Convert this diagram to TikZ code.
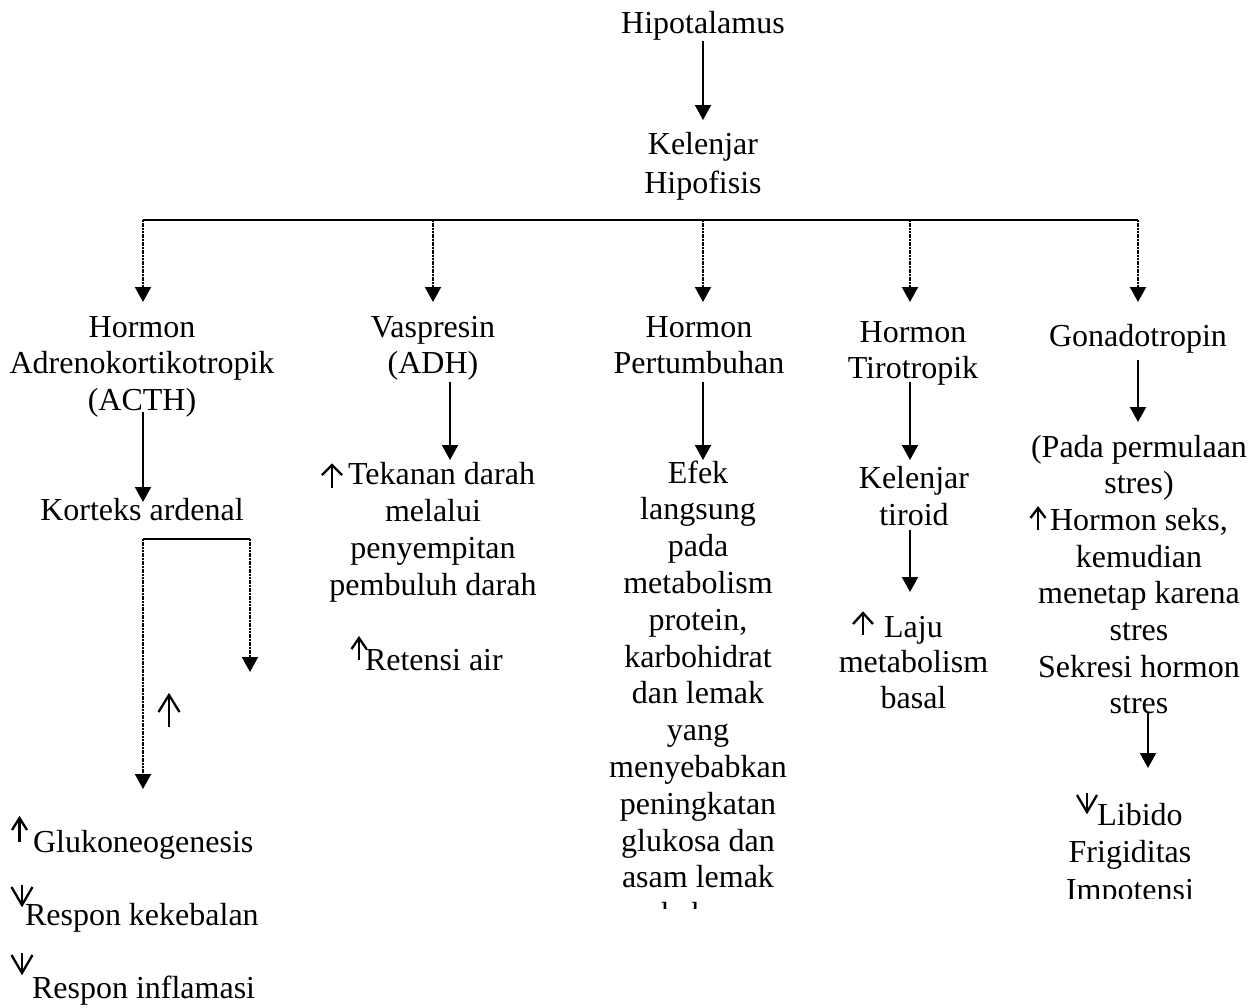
\documentclass[tikz,border=0pt]{standalone}
\usepackage{fontspec}
\setmainfont{Liberation Serif}
\usetikzlibrary{arrows.meta}
\newcommand\mkup[5]{\draw[glyph] (#1,#2) -- (#1,#3); \draw[glyph] (#1-#4,#2+#5) -- (#1,#2) -- (#1+#4,#2+#5);}
\newcommand\mkdown[5]{\draw[glyph] (#1,#2) -- (#1,#3); \draw[glyph] (#1-#4,#3-#5) -- (#1,#3) -- (#1+#4,#3-#5);}
\begin{document}
\begin{tikzpicture}[x=1pt,y=-1pt,
  txt/.style={inner sep=0pt, outer sep=0pt, align=center, font=\fontsize{32}{#1}\selectfont},
  txt/.default=37,
  solidarr/.style={draw, line width=2pt, -{Triangle[width=16pt,length=15pt]}},
  dotarr/.style={solidarr, dash pattern=on 2pt off 0.7pt},
  busline/.style={draw, line width=2pt},
  glyph/.style={draw, line width=2.3pt, miter limit=10}]
\useasboundingbox (0,0) rectangle (1256,1007);

% --- text nodes ---
\node[txt, anchor=base] (hyp) at (703,33) {Hipotalamus};
\node[txt=39, anchor=north] (hip) at (703,126.7) {\strut Kelenjar\\Hipofisis};

\node[txt=36.5, anchor=north] (acth) at (142,311.45) {\strut Hormon\\Adrenokortikotropik\\(ACTH)};
\node[txt, anchor=base] (kort) at (142,520) {Korteks ardenal};

\node[txt=36, anchor=north] (vas) at (433,311.8) {\strut Vaspresin\\(ADH)};
\node[txt=37, anchor=north] (tek) at (433,458.1) {\strut\hspace*{17pt}Tekanan darah\\melalui\\penyempitan\\pembuluh darah};
\node[txt, anchor=base west] (ret) at (365,670) {Retensi air};

\node[txt=36, anchor=north] (pert) at (699,311.8) {\strut Hormon\\Pertumbuhan};
\begin{scope}
\clip (560,400) rectangle (840,908);
\node[txt=36.8, anchor=north] (efek) at (698,457.24) {\strut Efek\\langsung\\pada\\metabolism\\protein,\\karbohidrat\\dan lemak\\yang\\menyebabkan\\peningkatan\\glukosa dan\\asam lemak\\bebas};
\end{scope}

\node[txt=36, anchor=north] (tiro) at (913,316.8) {\strut Hormon\\Tirotropik};
\node[txt=37, anchor=north] (tiroid) at (914,462.1) {\strut Kelenjar\\tiroid};
\node[txt=35.5, anchor=north] (laju) at (913.5,612.15) {\strut Laju\\metabolism\\basal};

\node[txt, anchor=base] (gonad) at (1138,346) {Gonadotropin};
\node[txt=36.7, anchor=north] (pada) at (1139,431.3) {\strut(Pada permulaan\\stres)\\Hormon seks,\\kemudian\\menetap karena\\stres\\Sekresi hormon\\stres};
\begin{scope}
\clip (1000,760) rectangle (1256,898);
\node[txt=37.5, anchor=north] (lib) at (1130,798.75) {\strut\hspace*{20pt}Libido\\Frigiditas\\Impotensi};
\end{scope}

\node[txt, anchor=base west] (gluk) at (33,852) {Glukoneogenesis};
\node[txt, anchor=base west] (kek) at (25,925) {Respon kekebalan};
\node[txt, anchor=base west] (infl) at (32,998) {Respon inflamasi};

% --- connector coordinates ---
\coordinate (hypS) at (703,41);   \coordinate (hipN) at (703,120);
\coordinate (busL) at (143,220);  \coordinate (busR) at (1138,220);
\coordinate (bus1) at (433,220);  \coordinate (bus2) at (703,220);
\coordinate (bus3) at (910,220);
\coordinate (d0) at (143,302); \coordinate (d1) at (433,302);
\coordinate (d2) at (703,302); \coordinate (d3) at (910,302);
\coordinate (d4) at (1138,302);
\coordinate (acthS) at (143,412); \coordinate (kortN) at (143,502);
\coordinate (brL) at (143,539);   \coordinate (brR) at (250,539);
\coordinate (brRend) at (250,672); \coordinate (brLend) at (143,789);
\coordinate (vasS) at (450,382);  \coordinate (tekN) at (450,460);
\coordinate (pertS) at (703,382); \coordinate (efekN) at (703,460);
\coordinate (tiroS) at (910,382); \coordinate (tiroidN) at (910,460);
\coordinate (tiroidS) at (910,530); \coordinate (lajuN) at (910,592);
\coordinate (gonS) at (1138,360); \coordinate (padaN) at (1138,422);
\coordinate (padaS) at (1148,713); \coordinate (libN) at (1148,768);

% --- connectors ---
\draw[solidarr] (hypS) -- (hipN);
\draw[busline] (busL) -- (busR);
\draw[dotarr] (busL) -- (d0);
\draw[dotarr] (bus1) -- (d1);
\draw[dotarr] (bus2) -- (d2);
\draw[dotarr] (bus3) -- (d3);
\draw[dotarr] (busR) -- (d4);
\draw[solidarr] (acthS) -- (kortN);
\draw[busline] (brL) -- (brR);
\draw[dotarr] (brR) -- (brRend);
\draw[dotarr] (brL) -- (brLend);
\draw[solidarr] (vasS) -- (tekN);
\draw[solidarr] (pertS) -- (efekN);
\draw[solidarr] (tiroS) -- (tiroidN);
\draw[solidarr] (tiroidS) -- (lajuN);
\draw[solidarr] (gonS) -- (padaN);
\draw[solidarr] (padaS) -- (libN);

% --- up / down glyph arrows ---
\mkup{169}{695}{727}{10.5}{17}
\mkup{19.5}{818}{842}{7.5}{12}
\mkdown{22}{885}{905}{10.5}{18}
\mkdown{22}{953}{973}{10.5}{18}
\mkup{332}{465}{488}{10}{10}
\mkup{359}{638}{660}{7.5}{11}
\mkup{863}{613}{635}{10}{11}
\mkup{1038}{508}{530}{7.5}{10}
\mkdown{1087}{793}{812}{10}{17}
\end{tikzpicture}
\end{document}
